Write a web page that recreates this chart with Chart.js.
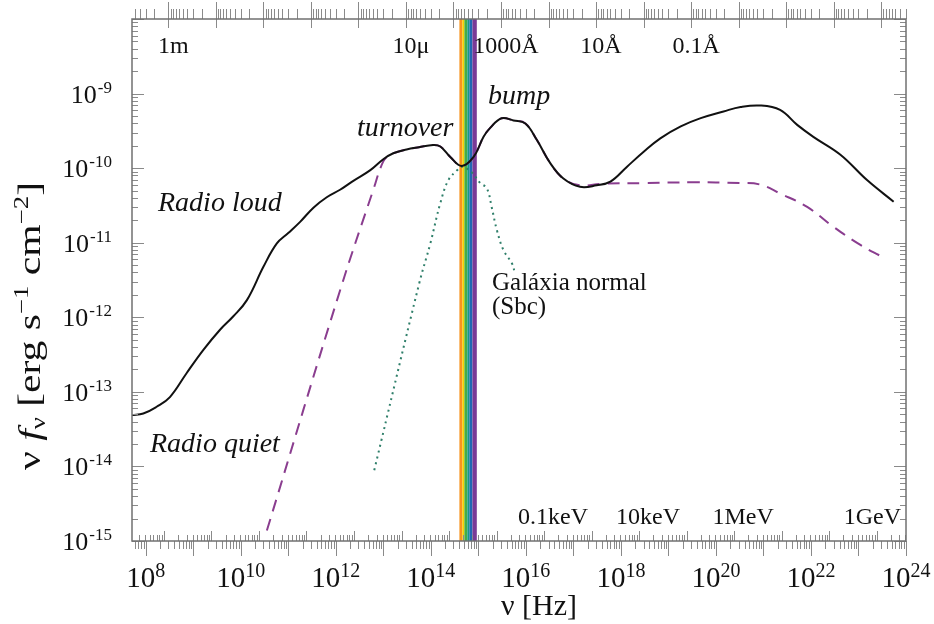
<!DOCTYPE html>
<html lang="pt">
<head>
<meta charset="UTF-8">
<title>SED quasar</title>
<script src="https://cdn.jsdelivr.net/npm/chart.js"></script>
<style>
  body { margin: 0; background: #fff; }
  #wrap { width: 934px; height: 624px; position: relative; }
</style>
</head>
<body>
<div id="wrap"><canvas id="sedChart"></canvas></div>
<script>
// log10 of frequency [Hz] and log10 of nu*f_nu [erg s^-1 cm^-2]
var loudLogNu = [7.71, 7.95, 8.23, 8.51, 8.86, 9.21, 9.56, 9.84, 10.13, 10.48, 10.76, 11.0, 11.25, 11.53, 11.81, 12.09,
  12.37, 12.72, 13.0, 13.21, 13.49, 13.75, 14.05, 14.2, 14.41, 14.65, 14.9, 15.11, 15.25, 15.49, 15.74, 15.99, 16.23,
  16.51, 16.79, 17.14, 17.49, 17.78, 18.13, 18.48, 18.83, 19.26, 19.68, 20.16, 20.52, 20.93, 21.35, 21.71, 22.05,
  22.62, 23.18, 23.74];
var loudLogF = [-13.31, -13.29, -13.20, -13.07, -12.75, -12.44, -12.17, -11.99, -11.77, -11.32, -11.01, -10.87, -10.72,
  -10.53, -10.39, -10.29, -10.17, -10.03, -9.88, -9.80, -9.75, -9.72, -9.69, -9.71, -9.85, -9.97, -9.85, -9.58, -9.46,
  -9.33, -9.36, -9.40, -9.62, -9.93, -10.14, -10.25, -10.23, -10.18, -9.98, -9.78, -9.60, -9.44, -9.33, -9.24, -9.18,
  -9.16, -9.22, -9.42, -9.58, -9.82, -10.16, -10.45];

var quietLogNu = [10.55, 12.09, 12.79, 13.0, 13.14, 13.21, 13.49, 13.75, 14.05, 14.2, 14.41, 14.65, 14.9, 15.11, 15.25,
  15.49, 15.74, 15.99, 16.23, 16.51, 16.79, 17.14, 17.6, 18.5, 19.5, 20.5, 20.93, 21.35, 21.92, 22.48, 23.04, 23.5];
var quietLogF = [-14.86, -11.64, -10.29, -9.91, -9.82, -9.80, -9.75, -9.72, -9.69, -9.71, -9.85, -9.97, -9.85, -9.58,
  -9.46, -9.33, -9.36, -9.40, -9.62, -9.93, -10.14, -10.23, -10.21, -10.20, -10.19, -10.20, -10.22, -10.34, -10.52,
  -10.79, -11.03, -11.19];

var galaxyLogNu = [12.81, 13.75, 13.99, 14.2, 14.37, 14.55, 14.65, 14.85, 15.04, 15.18, 15.28, 15.39, 15.53, 15.71, 15.77];
var galaxyLogF = [-14.05, -11.56, -11.01, -10.47, -10.16, -10.03, -9.98, -10.05, -10.20, -10.27, -10.52, -10.83,
  -11.10, -11.28, -11.41];

var xTickExp = [8, 10, 12, 14, 16, 18, 20, 22, 24];
var yTickExp = [-15, -14, -13, -12, -11, -10, -9];

var waveLabels = ['1m', '10\u03bc', '1000\u00c5', '10\u00c5', '0.1\u00c5'];
var waveMeters = [1, 1e-5, 1e-7, 1e-9, 1e-11];
var energyLabels = ['0.1keV', '10keV', '1MeV', '1GeV'];
var energyEV = [1e2, 1e4, 1e6, 1e9];

// visible band (log10 Hz edges) and colours
var bandEdges = [14.602, 14.665, 14.707, 14.770, 14.812, 14.876, 14.968];
var bandColors = ['#f7931e', '#f2d200', '#44ad45', '#14978a', '#2168b3', '#7a3b97'];

var C_LIGHT = 2.998e8;
var EV_HZ = 2.418e14;
var SERIF = '"Liberation Serif", "Times New Roman", serif';

function toPoints(lx, ly) {
    var pts = [];
    for (var i = 0; i < lx.length; i++) pts.push({x: Math.pow(10, lx[i]), y: Math.pow(10, ly[i])});
    return pts;
}

// log ticks: majors at k+offset, minors at +/- log10(m)
function logTicks(offset, lo, hi, mirror) {
    var out = [];
    for (var k = Math.floor(lo) - 2; k <= Math.ceil(hi) + 1; k++) {
        var base = k + offset;
        out.push({l: base, major: true});
        for (var m = 2; m <= 9; m++) {
            out.push({l: mirror ? base - Math.log10(m) : base + Math.log10(m), major: false});
        }
    }
    return out.filter(function (t) { return t.l >= lo - 1e-6 && t.l <= hi + 1e-6; });
}

var bandPlugin = {
    id: 'band',
    beforeDatasetsDraw: function (chart) {
        var ctx = chart.ctx, a = chart.chartArea, xs = chart.scales.x;
        ctx.save();
        for (var i = 0; i < bandColors.length; i++) {
            var x0 = xs.getPixelForValue(Math.pow(10, bandEdges[i]));
            var x1 = xs.getPixelForValue(Math.pow(10, bandEdges[i + 1]));
            ctx.fillStyle = bandColors[i];
            ctx.fillRect(x0, a.top, x1 - x0, a.bottom - a.top);
        }
        ctx.restore();
    }
};

var framePlugin = {
    id: 'frame',
    afterDraw: function (chart) {
        var ctx = chart.ctx, a = chart.chartArea, xs = chart.scales.x, ys = chart.scales.y;
        var xlo = Math.log10(xs.min), xhi = Math.log10(xs.max);
        var px = function (l) { return xs.getPixelForValue(Math.pow(10, l)); };
        var py = function (l) { return ys.getPixelForValue(Math.pow(10, l)); };
        ctx.save();

        // tick marks
        ctx.strokeStyle = '#8a8a8a';
        ctx.lineWidth = 1;
        ctx.beginPath();
        // bottom, outside: frequency
        logTicks(0, xlo, xhi, false).forEach(function (t) {
            var x = Math.round(px(t.l)) + 0.5;
            ctx.moveTo(x, a.bottom); ctx.lineTo(x, a.bottom + (t.major ? 15 : 8));
        });
        // bottom, inside: energy
        logTicks(Math.log10(EV_HZ) % 1, xlo, xhi, false).forEach(function (t) {
            var x = Math.round(px(t.l)) + 0.5;
            ctx.moveTo(x, a.bottom); ctx.lineTo(x, a.bottom - (t.major ? 10 : 6));
        });
        // top: wavelength
        logTicks(Math.log10(C_LIGHT) % 1, xlo, xhi, true).forEach(function (t) {
            var x = Math.round(px(t.l)) + 0.5;
            if (t.major) { ctx.moveTo(x, a.top - 17); ctx.lineTo(x, a.top + 9); }
            else { ctx.moveTo(x, a.top - 10); ctx.lineTo(x, a.top); }
        });
        // left / right: flux
        logTicks(0, -15, -8, false).forEach(function (t) {
            var y = Math.round(py(t.l)) + 0.5;
            var len = t.major ? 12 : 6;
            ctx.moveTo(a.left, y); ctx.lineTo(a.left + len, y);
            ctx.moveTo(a.right, y); ctx.lineTo(a.right - len, y);
        });
        ctx.stroke();

        // frame
        ctx.strokeStyle = '#707070';
        ctx.lineWidth = 1.5;
        ctx.strokeRect(a.left, a.top, a.right - a.left, a.bottom - a.top);

        ctx.fillStyle = '#111';
        ctx.textBaseline = 'alphabetic';

        // y tick labels 10^k
        yTickExp.forEach(function (k) {
            var y = py(k);
            ctx.font = '17px ' + SERIF;
            var e = String(k);
            var we = ctx.measureText(e).width;
            ctx.textAlign = 'right';
            ctx.fillText(e, 112, y - 1);
            ctx.font = '26px ' + SERIF;
            ctx.fillText('10', 112 - we - 1, y + 9);
        });

        // x tick labels 10^k
        xTickExp.forEach(function (k) {
            var x = px(k);
            ctx.font = '29px ' + SERIF;
            var wb = ctx.measureText('10').width;
            ctx.font = '20px ' + SERIF;
            var e = String(k);
            var we = ctx.measureText(e).width;
            var x0 = x - (wb + we) / 2;
            ctx.textAlign = 'left';
            ctx.font = '29px ' + SERIF;
            ctx.fillText('10', x0, 587);
            ctx.font = '20px ' + SERIF;
            ctx.fillText(e, x0 + wb, 577);
        });

        // wavelength labels (top, inside)
        ctx.font = '24px ' + SERIF;
        ctx.textAlign = 'center';
        waveLabels.forEach(function (s, i) {
            ctx.fillText(s, px(Math.log10(C_LIGHT / waveMeters[i])) + 5, 53);
        });
        // energy labels (bottom, inside)
        energyLabels.forEach(function (s, i) {
            var x = px(Math.log10(energyEV[i] * EV_HZ)) + 9;
            var w = ctx.measureText(s).width;
            if (x + w / 2 > a.right - 5) x = a.right - 5 - w / 2;
            ctx.fillText(s, x, 524);
        });

        // curve annotations
        ctx.textAlign = 'left';
        ctx.font = 'italic 28px ' + SERIF;
        ctx.fillText('Radio loud', 158, 211);
        ctx.fillText('turnover', 357, 136);
        ctx.fillText('bump', 488, 104);
        ctx.fillText('Radio quiet', 150, 452);
        ctx.font = '25px ' + SERIF;
        ctx.fillText('Gal\u00e1xia normal', 492, 290);
        ctx.fillText('(Sbc)', 492, 314);

        // x axis title
        ctx.font = '30px ' + SERIF;
        ctx.textAlign = 'center';
        ctx.fillText('\u03bd [Hz]', 539, 615);

        // y axis title, rotated, drawn in runs (sub/superscripts), stretched along the text
        var runs = [
            ['\u03bd ', '31px ', 0],
            ['f', 'italic 31px ', 0],
            ['\u03bd', '20px ', 5],
            [' [erg s', '31px ', 0],
            ['\u22121', '20px ', -12],
            [' cm', '31px ', 0],
            ['\u22122', '20px ', -12],
            [']', '31px ', 0]
        ];
        var total = 0;
        runs.forEach(function (r) { ctx.font = r[1] + SERIF; r.push(ctx.measureText(r[0]).width); total += r[3]; });
        var sx = 288 / total;
        ctx.translate(40, 0);
        ctx.rotate(-Math.PI / 2);
        ctx.scale(sx, 1);
        ctx.textAlign = 'left';
        var u = -470 / sx;
        runs.forEach(function (r) {
            ctx.font = r[1] + SERIF;
            ctx.fillText(r[0], u, r[2]);
            u += r[3];
        });
        ctx.restore();
    }
};

var ctx = document.getElementById('sedChart').getContext('2d');
var chart = new Chart(ctx, {
    type: 'scatter',
    data: {
        datasets: [{
            label: 'Radio loud',
            data: toPoints(loudLogNu, loudLogF),
            showLine: true,
            borderColor: '#111',
            borderWidth: 2,
            pointRadius: 0,
            tension: 0.4
        }, {
            label: 'Radio quiet',
            data: toPoints(quietLogNu, quietLogF),
            showLine: true,
            borderColor: '#8a3d8f',
            borderWidth: 2,
            borderDash: [12, 8],
            pointRadius: 0,
            tension: 0.4
        }, {
            label: 'Galaxia normal (Sbc)',
            data: toPoints(galaxyLogNu, galaxyLogF),
            showLine: true,
            borderColor: '#2f7f6a',
            borderWidth: 2,
            borderDash: [2, 4],
            pointRadius: 0,
            tension: 0.4
        }]
    },
    options: {
        responsive: true,
        maintainAspectRatio: false,
        animation: false,
        layout: { padding: { left: 132, right: 28, top: 19, bottom: 83 } },
        plugins: { legend: { display: false }, tooltip: { enabled: false } },
        scales: {
            x: { type: 'logarithmic', min: Math.pow(10, 7.712), max: 1e24, display: false },
            y: { type: 'logarithmic', min: 1e-15, max: 1e-8, display: false }
        }
    },
    plugins: [bandPlugin, framePlugin]
});
</script>
</body>
</html>
